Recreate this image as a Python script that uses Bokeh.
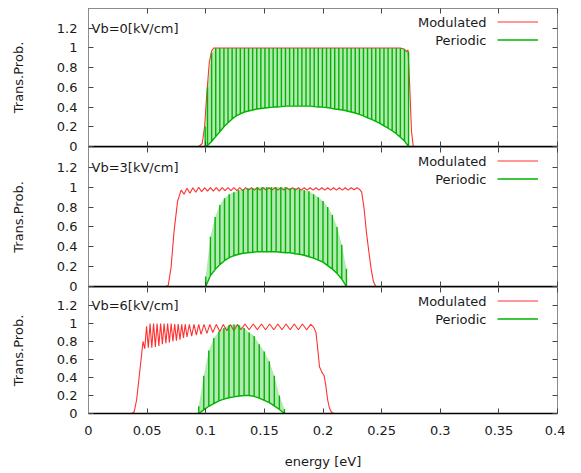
from bokeh.plotting import figure
from bokeh.layouts import column
from bokeh.models import (Range1d, FixedTicker, CustomJSTickFormatter, LinearAxis,
                          Label, Legend, LegendItem)
from bokeh.embed import file_html
from bokeh.resources import INLINE

# ---------------- data ----------------
X_TICKS = [0, 0.05, 0.1, 0.15, 0.2, 0.25, 0.3, 0.35, 0.4]
Y_TICKS = [0, 0.2, 0.4, 0.6, 0.8, 1, 1.2]
X_LABEL = "energy [eV]"
Y_LABEL = "Trans.Prob."
PANEL_TITLES = ["Vb=0[kV/cm]", "Vb=3[kV/cm]", "Vb=6[kV/cm]"]
SERIES = ["Modulated", "Periodic"]

# Vb = 0 : Modulated
mod0_x = [0.094, 0.097, 0.099, 0.101, 0.103, 0.105, 0.107, 0.150, 0.200, 0.250, 0.266,
          0.269, 0.2705, 0.2715, 0.2725, 0.274, 0.2755, 0.277]
mod0_y = [0.0, 0.03, 0.2, 0.55, 0.85, 0.97, 1.0, 1.0, 1.0, 1.0, 1.0,
          0.99, 0.97, 0.965, 0.98, 0.6, 0.15, 0.0]

# Vb = 0 : Periodic (resonance spikes: position, lower envelope, peak)
per0_x = [0.0995, 0.1015, 0.1050, 0.1085, 0.1120, 0.1155, 0.1190, 0.1225, 0.1260, 0.1295,
          0.1330, 0.1365, 0.1400, 0.1435, 0.1470, 0.1505, 0.1540, 0.1575, 0.1610, 0.1645,
          0.1680, 0.1715, 0.1750, 0.1785, 0.1820, 0.1855, 0.1890, 0.1925, 0.1960, 0.1995,
          0.2030, 0.2065, 0.2100, 0.2135, 0.2170, 0.2205, 0.2240, 0.2275, 0.2310, 0.2345,
          0.2380, 0.2415, 0.2450, 0.2485, 0.2520, 0.2555, 0.2590, 0.2625, 0.2660, 0.2695,
          0.2730]
per0_lo = [0.0, 0.01, 0.05, 0.10, 0.15, 0.20, 0.24, 0.28, 0.31, 0.33,
           0.35, 0.36, 0.37, 0.38, 0.385, 0.39, 0.395, 0.40, 0.40, 0.405,
           0.41, 0.41, 0.41, 0.41, 0.41, 0.41, 0.41, 0.405, 0.40, 0.40,
           0.395, 0.39, 0.38, 0.375, 0.37, 0.36, 0.35, 0.34, 0.325, 0.31,
           0.29, 0.275, 0.255, 0.235, 0.21, 0.185, 0.16, 0.13, 0.095, 0.055,
           0.0]
per0_hi = [0.2, 0.6, 0.95, 1.0, 1.0, 1.0, 1.0, 1.0, 1.0, 1.0,
           1.0, 1.0, 1.0, 1.0, 1.0, 1.0, 1.0, 1.0, 1.0, 1.0,
           1.0, 1.0, 1.0, 1.0, 1.0, 1.0, 1.0, 1.0, 1.0, 1.0,
           1.0, 1.0, 1.0, 1.0, 1.0, 1.0, 1.0, 1.0, 1.0, 1.0,
           1.0, 1.0, 1.0, 1.0, 1.0, 1.0, 1.0, 1.0, 1.0, 0.99,
           0.96]

# Vb = 3 : Modulated
mod1_x = [0.066, 0.068, 0.0704, 0.073, 0.076,
          0.079, 0.0815, 0.084, 0.0865, 0.089, 0.0915, 0.094, 0.0965, 0.099, 0.1015,
          0.104, 0.1065, 0.109, 0.1115, 0.114, 0.1165, 0.119, 0.1215, 0.124, 0.1265,
          0.129, 0.1315, 0.134, 0.1365, 0.139, 0.1415, 0.144, 0.1465, 0.149, 0.1515,
          0.154, 0.1565, 0.159, 0.1615, 0.164, 0.1665, 0.169, 0.1715, 0.174, 0.1765,
          0.179, 0.1815, 0.184, 0.1865, 0.189, 0.1915, 0.194, 0.1965, 0.199, 0.2015,
          0.204, 0.2065, 0.209, 0.2115, 0.214, 0.2165, 0.219, 0.2215, 0.224, 0.2265,
          0.229,
          0.231, 0.233, 0.235, 0.237, 0.239, 0.241, 0.243, 0.245]
mod1_y = [0.0, 0.01, 0.19, 0.56, 0.86,
          0.97, 0.93, 0.99, 0.94, 0.995, 0.95, 1.0, 0.955, 0.995, 0.96,
          0.995, 0.96, 0.995, 0.96, 0.995, 0.965, 0.995, 0.965, 0.995, 0.965,
          0.995, 0.965, 0.995, 0.97, 0.995, 0.97, 0.995, 0.97, 0.995, 0.97,
          0.995, 0.97, 0.995, 0.97, 0.995, 0.97, 0.995, 0.97, 0.995, 0.97,
          0.995, 0.97, 0.995, 0.97, 0.995, 0.97, 0.995, 0.97, 0.995, 0.97,
          0.995, 0.97, 0.995, 0.97, 0.995, 0.97, 0.995, 0.97, 0.995, 0.975,
          0.995,
          0.98, 0.95, 0.79, 0.55, 0.36, 0.18, 0.05, 0.0]

# Vb = 3 : Periodic
per1_x = [0.100, 0.104, 0.108, 0.112, 0.116, 0.120, 0.124, 0.128, 0.132, 0.136,
          0.140, 0.144, 0.148, 0.152, 0.156, 0.160, 0.164, 0.168, 0.172, 0.176,
          0.180, 0.184, 0.188, 0.192, 0.196, 0.200, 0.204, 0.208, 0.212, 0.216,
          0.220]
per1_lo = [0.0, 0.11, 0.17, 0.22, 0.26, 0.29, 0.31, 0.325, 0.335, 0.34,
           0.345, 0.35, 0.35, 0.35, 0.35, 0.35, 0.345, 0.34, 0.34, 0.33,
           0.325, 0.315, 0.30, 0.285, 0.265, 0.245, 0.21, 0.175, 0.13, 0.075,
           0.0]
per1_hi = [0.10, 0.50, 0.70, 0.82, 0.89, 0.93, 0.95, 0.97, 0.98, 0.99,
           0.99, 1.0, 1.0, 1.0, 1.0, 1.0, 1.0, 1.0, 0.99, 0.99,
           0.98, 0.97, 0.96, 0.93, 0.90, 0.86, 0.80, 0.72, 0.60, 0.42,
           0.18]

# Vb = 6 : Modulated
mod2_x = [0.037, 0.039, 0.041, 0.043, 0.045, 0.0465, 0.048, 0.0495,
          0.051, 0.0525, 0.054, 0.0555, 0.057, 0.0585, 0.060, 0.0615, 0.063, 0.0645,
          0.066, 0.0675, 0.069, 0.0705, 0.072, 0.0735, 0.075, 0.0765, 0.078, 0.0795,
          0.081, 0.0825, 0.084, 0.086, 0.088, 0.090, 0.092, 0.094, 0.096, 0.0985,
          0.101, 0.1035, 0.106, 0.109, 0.112, 0.115, 0.118, 0.121, 0.124, 0.127,
          0.130, 0.1335, 0.137, 0.1405, 0.144, 0.1475, 0.151, 0.1545, 0.158, 0.1615,
          0.165, 0.1685, 0.172, 0.1755, 0.179, 0.1825, 0.186, 0.1895,
          0.192, 0.194, 0.1955, 0.197, 0.199, 0.201, 0.2025, 0.204, 0.2055, 0.207, 0.209]
mod2_y = [0.0, 0.02, 0.15, 0.38, 0.62, 0.80, 0.72, 0.97,
          0.73, 1.0, 0.73, 1.0, 0.74, 1.0, 0.75, 1.0, 0.77, 1.0,
          0.78, 1.0, 0.79, 1.0, 0.80, 0.995, 0.81, 0.995, 0.82, 0.99,
          0.84, 0.99, 0.85, 0.99, 0.86, 0.99, 0.87, 0.99, 0.88, 0.99,
          0.89, 0.99, 0.90, 0.99, 0.91, 0.99, 0.92, 0.99, 0.92, 0.99,
          0.93, 0.995, 0.93, 0.995, 0.93, 0.995, 0.93, 0.995, 0.93, 0.995,
          0.93, 0.995, 0.93, 0.995, 0.93, 0.995, 0.93, 0.99,
          0.96, 0.90, 0.72, 0.52, 0.46, 0.42, 0.30, 0.15, 0.06, 0.02, 0.0]

# Vb = 6 : Periodic
per2_x = [0.0940, 0.0983, 0.1026, 0.1069, 0.1112, 0.1155, 0.1198, 0.1241, 0.1284,
          0.1327, 0.1370, 0.1413, 0.1456, 0.1499, 0.1542, 0.1585, 0.1628, 0.1671]
per2_lo = [0.0, 0.04, 0.08, 0.11, 0.14, 0.16, 0.175, 0.185, 0.195,
           0.20, 0.20, 0.19, 0.17, 0.145, 0.12, 0.085, 0.045, 0.0]
per2_hi = [0.08, 0.42, 0.70, 0.84, 0.91, 0.95, 0.98, 0.99, 0.98,
           0.95, 0.90, 0.86, 0.77, 0.69, 0.58, 0.42, 0.20, 0.05]

# ---------------- style ----------------
FONT = "DejaVu Sans"
FS = "13px"
RED = "#ff3030"
GREEN = "#00b400"
TEXT = "#1a1a1a"
FRAME = "#8c8c8c"
TICK = "#444444"
FRAME_W = 469
FRAME_HEIGHTS = [138, 139, 126]
BORDER_TOP = [8, 0, 0]
BORDER_BOTTOM = [8, 8, 0]
OVERLAP = [0, -7, -7]

fmt = CustomJSTickFormatter(code="return String(parseFloat(tick.toFixed(3)));")
x_range = Range1d(0, 0.4)


def spike_path(xs, lo, hi):
    px, py = [], []
    for x, a, b in zip(xs, lo, hi):
        px += [x, x, x]
        py += [a, b, a]
    return px, py


def make_panel(i, mx, my, sx, slo, shi, last):
    fh = FRAME_HEIGHTS[i]
    y_range = Range1d(0, 1.4)
    p = figure(frame_width=FRAME_W, frame_height=fh, x_range=x_range,
               y_range=y_range, output_backend="svg", toolbar_location=None,
               min_border_left=88, min_border_right=8, min_border_top=BORDER_TOP[i],
               min_border_bottom=BORDER_BOTTOM[i], margin=(OVERLAP[i], 0, 0, 0),
               border_fill_alpha=0)
    p.grid.visible = False
    p.outline_line_color = FRAME
    p.outline_line_width = 1

    xa = p.xaxis[0]
    xa.ticker = FixedTicker(ticks=X_TICKS)
    xa.formatter = fmt
    xa.major_tick_in = 5
    xa.major_tick_out = 0
    xa.minor_tick_line_color = None
    xa.major_tick_line_color = TICK
    xa.axis_line_color = "black"
    xa.axis_line_width = 1.6
    if last:
        xa.major_label_text_font = FONT
        xa.major_label_text_font_size = FS
        xa.major_label_text_color = TEXT
        xa.major_label_standoff = 12
        xa.axis_label = X_LABEL
        xa.axis_label_standoff = 16
        xa.axis_label_text_font = FONT
        xa.axis_label_text_font_size = FS
        xa.axis_label_text_font_style = "normal"
        xa.axis_label_text_color = TEXT
    else:
        xa.major_label_text_color = None
        xa.major_label_standoff = 0

    ya = p.yaxis[0]
    ya.ticker = FixedTicker(ticks=Y_TICKS)
    ya.formatter = fmt
    ya.major_tick_in = 5
    ya.major_tick_out = 0
    ya.minor_tick_line_color = None
    ya.major_tick_line_color = TICK
    ya.axis_line_color = FRAME
    ya.major_label_text_font = FONT
    ya.major_label_text_font_size = FS
    ya.major_label_text_color = TEXT
    ya.major_label_standoff = 11
    ya.axis_label = Y_LABEL
    ya.axis_label_standoff = 28
    ya.axis_label_text_font = FONT
    ya.axis_label_text_font_size = FS
    ya.axis_label_text_font_style = "normal"
    ya.axis_label_text_color = TEXT

    top = LinearAxis(ticker=FixedTicker(ticks=X_TICKS), formatter=fmt,
                     major_tick_in=5, major_tick_out=0, minor_tick_line_color=None,
                     major_tick_line_color=TICK, major_label_text_color=None,
                     major_label_standoff=0, axis_line_color=None)
    p.add_layout(top, "above")
    right = LinearAxis(ticker=FixedTicker(ticks=Y_TICKS), formatter=fmt,
                       major_tick_in=5, major_tick_out=0, minor_tick_line_color=None,
                       major_tick_line_color=TICK, major_label_text_color=None,
                       major_label_standoff=0, axis_line_color=None)
    p.add_layout(right, "right")

    r_mod = p.line(mx, my, line_color=RED, line_width=1.1)
    p.varea(x=sx, y1=slo, y2=shi, fill_color=GREEN, fill_alpha=0.3)
    px, py = spike_path(sx, slo, shi)
    r_per = p.line(px, py, line_color=GREEN, line_width=1.4)

    # legend keys only; the names are drawn as right-aligned labels to the left
    # of each key, as gnuplot does
    leg = Legend(items=[LegendItem(label="", renderers=[r_mod]),
                        LegendItem(label="", renderers=[r_per])],
                 location=(409, fh - 39), orientation="vertical",
                 padding=0, margin=0, spacing=3, label_standoff=0,
                 glyph_width=41, glyph_height=15, label_height=15,
                 label_text_font=FONT, label_text_font_size=FS,
                 background_fill_alpha=0, border_line_color=None)
    p.add_layout(leg)
    for k, name in enumerate(SERIES):
        p.add_layout(Label(x=x_range.end, y=y_range.end, x_offset=-71,
                           y_offset=-13.5 - 18 * k, text=name, text_align="right",
                           text_baseline="middle", text_font=FONT,
                           text_font_size=FS, text_color=TEXT))

    p.add_layout(Label(x=X_TICKS[0], y=Y_TICKS[-1], x_offset=3,
                       text=PANEL_TITLES[i], text_baseline="middle",
                       text_font=FONT, text_font_size=FS, text_color=TEXT))
    return p


p1 = make_panel(0, mod0_x, mod0_y, per0_x, per0_lo, per0_hi, False)
p2 = make_panel(1, mod1_x, mod1_y, per1_x, per1_lo, per1_hi, False)
p3 = make_panel(2, mod2_x, mod2_y, per2_x, per2_lo, per2_hi, True)

p = column(p1, p2, p3, spacing=0)
open("out.html", "w").write(file_html(p, INLINE))
